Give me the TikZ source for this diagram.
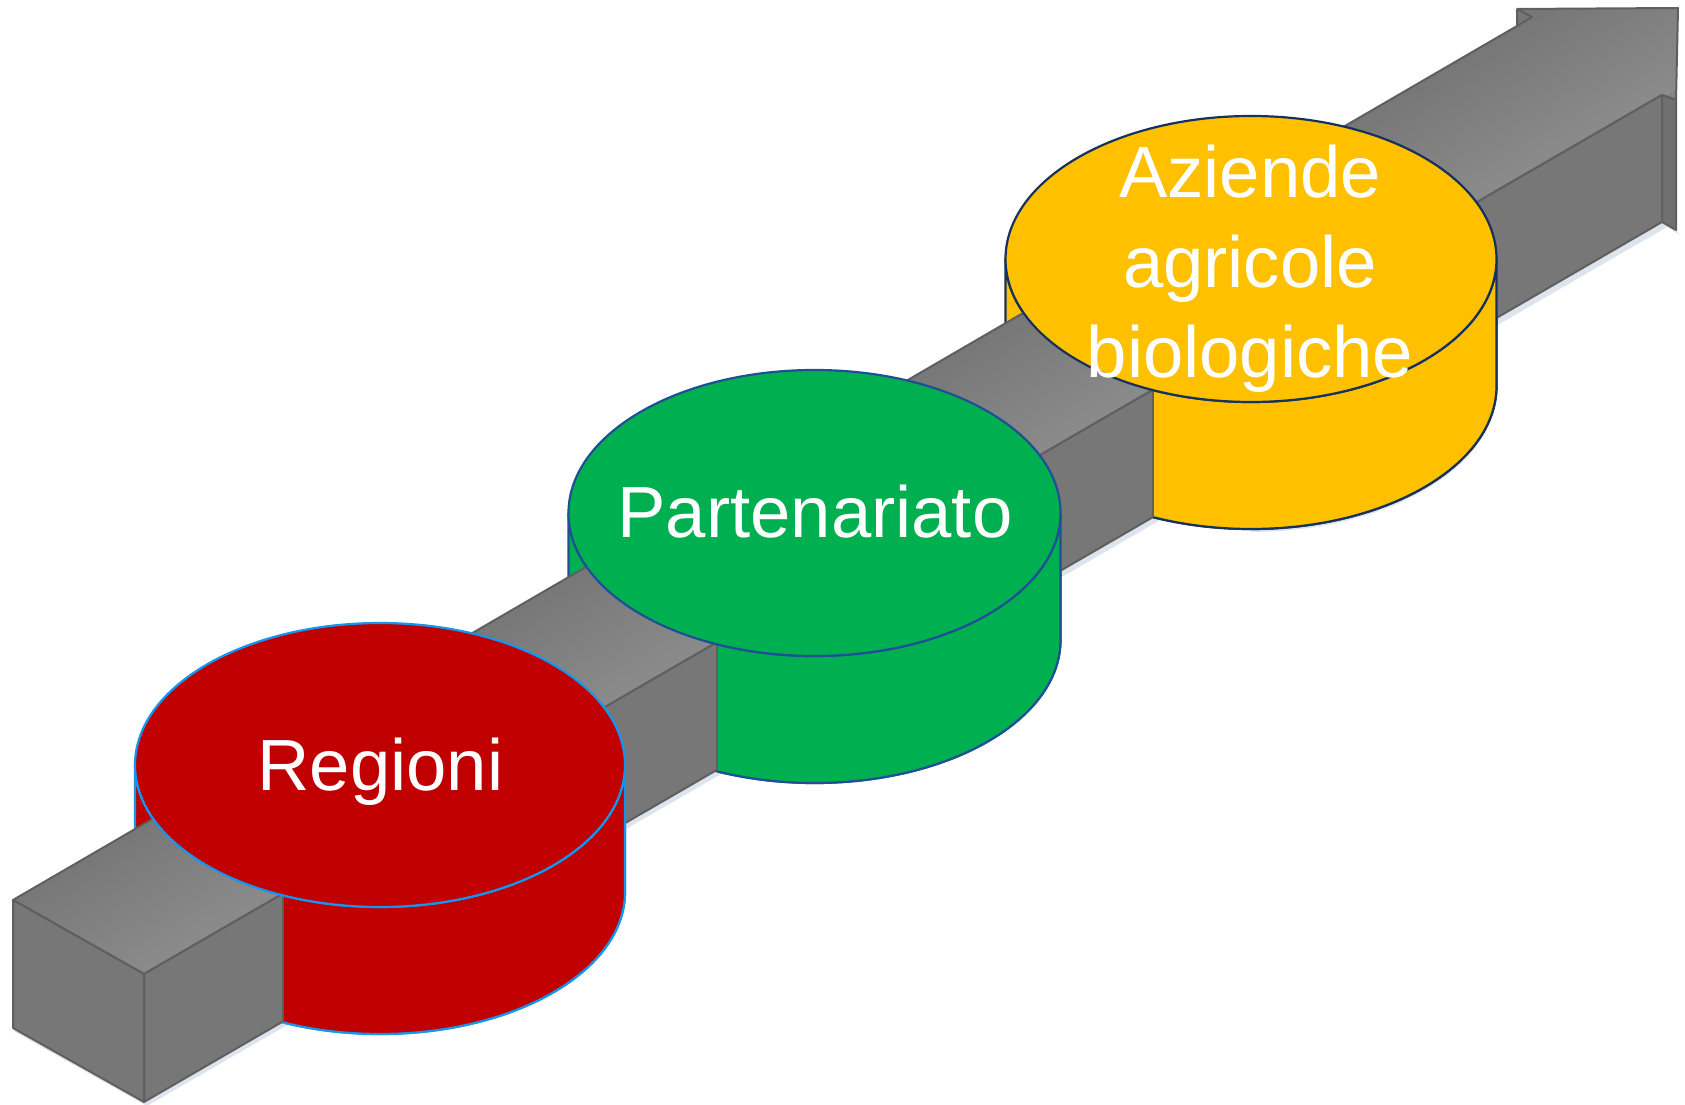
\documentclass[tikz,border=0pt]{standalone}
\usepackage{fontspec}
\setmainfont{Liberation Sans}
\usetikzlibrary{calc}
\definecolor{edgegray}{HTML}{5F5F5F}
\definecolor{topgray}{HTML}{838383}
\definecolor{topdark}{HTML}{777777}
\definecolor{toplight}{HTML}{8B8B8B}
\definecolor{frontgray}{HTML}{777777}
\definecolor{stripgray}{HTML}{707070}
\definecolor{redfill}{HTML}{C00000}
\definecolor{redline}{RGB}{20,150,240}
\definecolor{greenfill}{HTML}{00B050}
\definecolor{greenline}{RGB}{30,80,150}
\definecolor{yellowfill}{HTML}{FFC000}
\definecolor{yellowline}{RGB}{20,50,90}
\definecolor{shadowblue}{RGB}{200,210,225}
% cylinder side: cx, cy, rx, ry, h, style
\newcommand\cylsidepath[6]{%
  \path[#6] (#1-#3,#2) -- (#1-#3,#2-#5)
    arc[start angle=180,end angle=360,x radius=#3,y radius=#4]
    -- (#1+#3,#2)
    arc[start angle=0,end angle=-180,x radius=#3,y radius=#4] -- cycle;}
\begin{document}
\begin{tikzpicture}[x=0.5pt,y=0.5pt,line join=round,
  edge/.style={draw=edgegray,line width=1pt},
  frontface/.style={fill=frontgray,edge},
  stripface/.style={fill=stripgray,edge},
  redcyl/.style={fill=redfill,draw=redline,line width=1.1pt},
  grncyl/.style={fill=greenfill,draw=greenline,line width=1.1pt},
  yelcyl/.style={fill=yellowfill,draw=yellowline,line width=1.1pt},
  lbl/.style={text=white,inner sep=0pt,font=\fontsize{36.25}{45}\selectfont,align=center},
  softshadow/.style={fill=shadowblue,opacity=0.6}]
\useasboundingbox (0,0) rectangle (1685,1104);
% shaft corner points
\coordinate (A) at (13,204);
\coordinate (B) at (144,130);
\coordinate (C) at (144,2);
\coordinate (D) at (13,76);
\coordinate (E) at (1517,1078);
\coordinate (F) at (1517,1095);
\coordinate (G) at (1678,1096);
\coordinate (H) at (1676,1004);
\coordinate (I) at (1662,1009);
\coordinate (J) at (1662,882);
\coordinate (K) at (1676,874);
\coordinate (N) at (1532,1087);
% soft shadows
\path[softshadow] ($(D)+(2,-4)$) -- ($(C)+(3,-4)$) -- ($(J)+(5,-5)$) -- ($(K)+(4,-5)$) -- (K) -- (J) -- (C) -- (D) -- cycle;
\path[softshadow] (1251+245.5,845-127-3) arc[start angle=0,end angle=-90,x radius=245.5,y radius=143] -- (1251,845-127-143) arc[start angle=-90,end angle=0,x radius=245.5,y radius=143] -- cycle;
% step 1: full cylinder sides (behind the shaft)
\cylsidepath{1251}{845}{245.5}{143}{127}{yelcyl}
\cylsidepath{814.5}{591}{246}{143}{127}{grncyl}
\cylsidepath{380}{339}{245}{142}{127}{redcyl}
% step 2: the shaft, top face with a gradient across it
\begin{scope}
  \clip (A) -- (E) -- (F) -- (G) -- (H) -- (I) -- (B) -- cycle;
  \fill[topgray] (0,0) rectangle (1685,1104);
  \shade[transform canvas={rotate=30},top color=topdark,bottom color=toplight]
    (0,175) rectangle (2100,40);
  \shade[transform canvas={rotate=30},top color=topdark,bottom color=topdark]
    (0,175) rectangle (2100,205);
\end{scope}
\draw[edge] (A) -- (E) -- (F) -- (G) -- (H) -- (I) -- (B) -- cycle;
\path[frontface] (B) -- (I) -- (J) -- (C) -- cycle;
\path[frontface] (A) -- (B) -- (C) -- (D) -- cycle;
\path[stripface] (I) -- (H) -- (K) -- (J) -- cycle;
\draw[edge] (F) -- (N) -- (E);
% step 3: yellow
\begin{scope}
  \clip (1153,0) rectangle (1685,1104);
  \cylsidepath{1251}{845}{245.5}{143}{127}{yelcyl}
\end{scope}
\draw[edge] (intersection of B--I and 1153,0--1153,10) -- (intersection of C--J and 1153,0--1153,10);
\path[yelcyl] (1251,845) ellipse[x radius=245.5,y radius=143];
\node[lbl] (aziende) at (1250,835.5) {Aziende\\agricole\\biologiche};
% green
\begin{scope}
  \clip (717,0) rectangle (1685,1104);
  \cylsidepath{814.5}{591}{246}{143}{127}{grncyl}
\end{scope}
\draw[edge] (intersection of B--I and 717,0--717,10) -- (intersection of C--J and 717,0--717,10);
\path[grncyl] (814.5,591) ellipse[x radius=246,y radius=143];
\node[lbl,anchor=base] (partenariato) at (815,566) {Partenariato};
% red
\begin{scope}
  \clip (283,0) rectangle (1685,1104);
  \cylsidepath{380}{339}{245}{142}{127}{redcyl}
\end{scope}
\draw[edge] (intersection of B--I and 283,0--283,10) -- (intersection of C--J and 283,0--283,10);
\path[redcyl] (380,339) ellipse[x radius=245,y radius=142];
\node[lbl,anchor=base] (regioni) at (380.5,314) {Regioni};
\end{tikzpicture}
\end{document}
